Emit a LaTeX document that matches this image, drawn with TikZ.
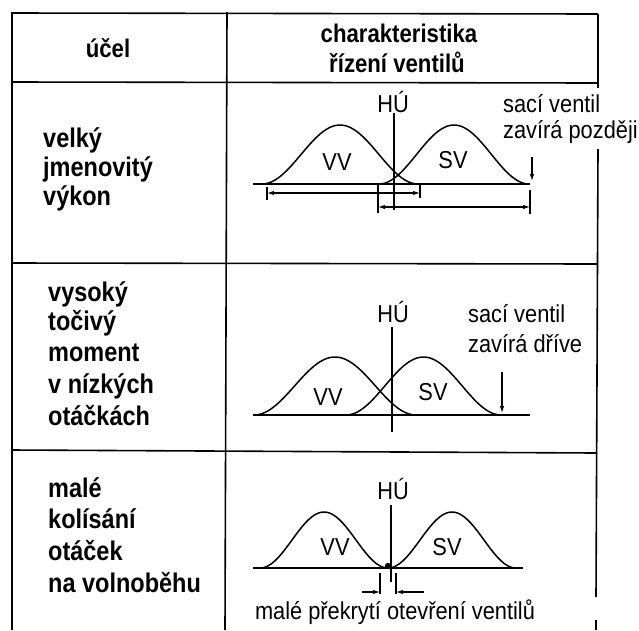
\documentclass[tikz,border=0pt]{standalone}
\usepackage{fontspec}
\setmainfont{Liberation Sans}
\newfontfamily\condfont{Liberation Sans}[FakeStretch=0.87]
\newfontfamily\labfont{Liberation Sans}[FakeStretch=0.89]
\usetikzlibrary{arrows.meta}
\begin{document}
\begin{tikzpicture}[x=1pt,y=-1pt,
  tbl/.style={line width=1.6pt},
  crv/.style={line width=1.5pt},
  dim/.style={line width=1.1pt},
  arr/.style={line width=1.1pt,-{Latex[length=7pt,width=4.5pt]}},
  darr/.style={line width=1.1pt,{Latex[length=7pt,width=4.5pt]}-{Latex[length=7pt,width=4.5pt]}},
  lbl/.style={font=\labfont\fontsize{24.5}{28}\selectfont, inner sep=0pt, anchor=base},
  purp/.style={font=\condfont\bfseries\fontsize{27}{30}\selectfont, inner sep=0pt, anchor=base west},
  hd/.style={font=\condfont\bfseries\fontsize{25.5}{28}\selectfont, inner sep=0pt, anchor=base}]
\useasboundingbox (0,0) rectangle (639,630);
% table
\draw[tbl] (12,13) -- (598,14);
\draw[tbl] (12,12) -- (12,630);
\draw[tbl] (227,12) -- (225,630);
\draw[tbl] (598,14) -- (598,88);
\draw[tbl] (598,149) -- (596,597);
\draw[tbl] (596,620) -- (596,630);
\draw[tbl] (12,82) -- (598,83);
\draw[tbl] (12,263) -- (598,264);
\draw[tbl] (12,450) -- (597,453);
% header
\node[hd] (h1) at (108,57) {účel};
\node[hd] (h2) at (399,42) {charakteristika};
\node[hd] (h3) at (397,72) {řízení ventilů};
% left column
\node[purp] (a1) at (43,147) {velký};
\node[purp] (a2) at (43,176) {jmenovitý};
\node[purp] (a3) at (43,205) {výkon};
\node[purp] (b1) at (48,301) {vysoký};
\node[purp] (b2) at (48,330) {točivý};
\node[purp] (b3) at (48,361) {moment};
\node[purp] (b4) at (48,393) {v nízkých};
\node[purp] (b5) at (48,425) {otáčkách};
\node[purp] (c1) at (48,497) {malé};
\node[purp] (c2) at (48,528) {kolísání};
\node[purp] (c3) at (48,560) {otáček};
\node[purp] (c4) at (48,592) {na volnoběhu};
% ---------- row 1
\draw[crv] (253,184) -- (530,184);
\draw[crv] plot[domain=0:1,samples=60] ({262+156*\x},{184-59*(1-cos(360*\x))/2});
\draw[crv] plot[domain=0:1,samples=60] ({379+150*\x},{184-59*(1-cos(360*\x))/2});
\node[lbl] (vv1) at (337,170) {VV};
\node[lbl] (sv1) at (453,168) {SV};
\node[lbl] (hu1) at (393,112) {HÚ};
\coordinate (hu1t) at (394,113);
\coordinate (hu1b) at (394,210);
\draw[dim] (hu1t) -- (hu1b);
\node[lbl,anchor=base west] (s1a) at (503,112) {sací ventil};
\node[lbl,anchor=base west] (s1b) at (503,138) {zavírá později};
\coordinate (p1t) at (532,157);
\coordinate (p1b) at (532,181);
\draw[arr] (p1t) -- (p1b);
% dimension lines row 1
\coordinate (d1a) at (267,193);
\coordinate (d1b) at (420,193);
\draw[dim] (267,187) -- (267,200);
\draw[dim] (420,184) -- (420,198);
\draw[darr] (d1a) -- (d1b);
\coordinate (d2a) at (378,207);
\coordinate (d2b) at (530,207);
\draw[dim] (378,184) -- (378,213);
\draw[dim] (530,190) -- (530,214);
\draw[darr] (d2a) -- (d2b);
% ---------- row 2
\draw[crv] (253,415) -- (530,415);
\draw[crv] plot[domain=0:1,samples=60] ({254+162*\x},{415-58*(1-cos(360*\x))/2});
\draw[crv] plot[domain=0:1,samples=60] ({346+155*\x},{415-58*(1-cos(360*\x))/2});
\node[lbl] (vv2) at (328,405) {VV};
\node[lbl] (sv2) at (433,400) {SV};
\node[lbl] (hu2) at (393,322) {HÚ};
\coordinate (hu2t) at (392,327);
\coordinate (hu2b) at (392,432);
\draw[dim] (hu2t) -- (hu2b);
\node[lbl,anchor=base west] (s2a) at (468,322) {sací ventil};
\node[lbl,anchor=base west] (s2b) at (468,352) {zavírá dříve};
\coordinate (p2t) at (502,372);
\coordinate (p2b) at (502,413);
\draw[arr] (p2t) -- (p2b);
% ---------- row 3
\draw[crv] (253,568) -- (523,568);
\draw[crv] plot[domain=0:1,samples=60] ({260+128*\x},{568-56*(1-cos(360*\x))/2});
\draw[crv] plot[domain=0:1,samples=60] ({388+128*\x},{568-56*(1-cos(360*\x))/2});
\fill (388,566) circle (3.2pt);
\node[lbl] (vv3) at (335,555) {VV};
\node[lbl] (sv3) at (447,555) {SV};
\node[lbl] (hu3) at (393,499) {HÚ};
\coordinate (hu3t) at (391,505);
\coordinate (hu3b) at (391,582);
\draw[dim] (hu3t) -- (hu3b);
\draw[dim] (380,573) -- (380,594);
\draw[dim] (396,573) -- (396,594);
\coordinate (o1) at (362,592);
\coordinate (o1e) at (380,592);
\coordinate (o2) at (424,592);
\coordinate (o2e) at (396,592);
\draw[arr] (o1) -- (o1e);
\draw[arr] (o2) -- (o2e);
\node[lbl] (ov) at (395,619) {malé překrytí otevření ventilů};
\end{tikzpicture}
\end{document}
